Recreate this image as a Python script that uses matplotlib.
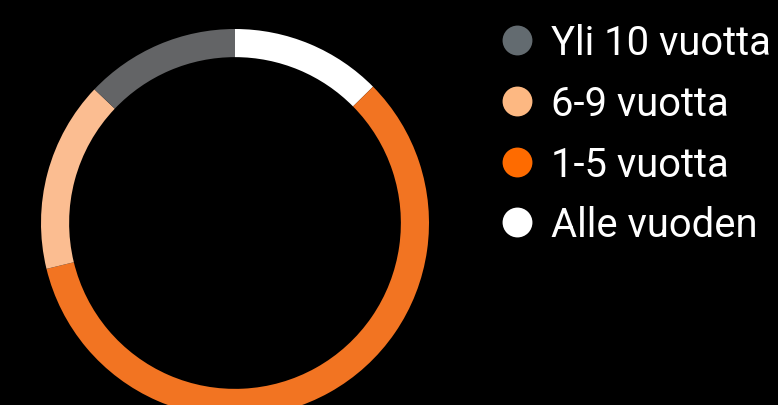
from matplotlib import pyplot as plt
from matplotlib.lines import Line2D

labels = ["Alle vuoden", "1-5 vuotta", "6-9 vuotta", "Yli 10 vuotta"]
values = [12.6, 58.6, 15.9, 12.9]
ring_colors = ["#ffffff", "#f27422", "#fbbd91", "#636466"]
legend_colors = ["#ffffff", "#fe6b00", "#fdb882", "#636b70"]

W, H = 778, 406
fig = plt.figure(figsize=(W / 100, H / 100), dpi=100, facecolor="black")

# donut, centre (235, 224) px, radius 194 px
cx, cy, r = 235, 224, 194
ax = fig.add_axes([(cx - r) / W, (H - cy - r) / H, 2 * r / W, 2 * r / H])
ax.set_facecolor("black")
wedges, _ = ax.pie(values, colors=ring_colors, startangle=90, counterclock=False,
                   radius=1, wedgeprops=dict(width=0.145, linewidth=0))
for w in wedges:
    w.set_clip_on(False)
ax.set_xlim(-1, 1)
ax.set_ylim(-1, 1)
ax.axis("off")

handles = [Line2D([], [], marker="o", linestyle="", markersize=21.5,
                  markerfacecolor=c, markeredgewidth=0)
           for c in legend_colors[::-1]]
leg = fig.legend(handles, labels[::-1], loc="upper left",
                 bbox_to_anchor=(497 / W, 1 - 24 / H),
                 frameon=False, labelcolor="white",
                 prop={"family": "Roboto", "size": 28.8},
                 labelspacing=0.545, handletextpad=0.35, handlelength=1.0,
                 borderaxespad=0, borderpad=0)

fig.savefig("out.png", dpi=100, facecolor="black")
